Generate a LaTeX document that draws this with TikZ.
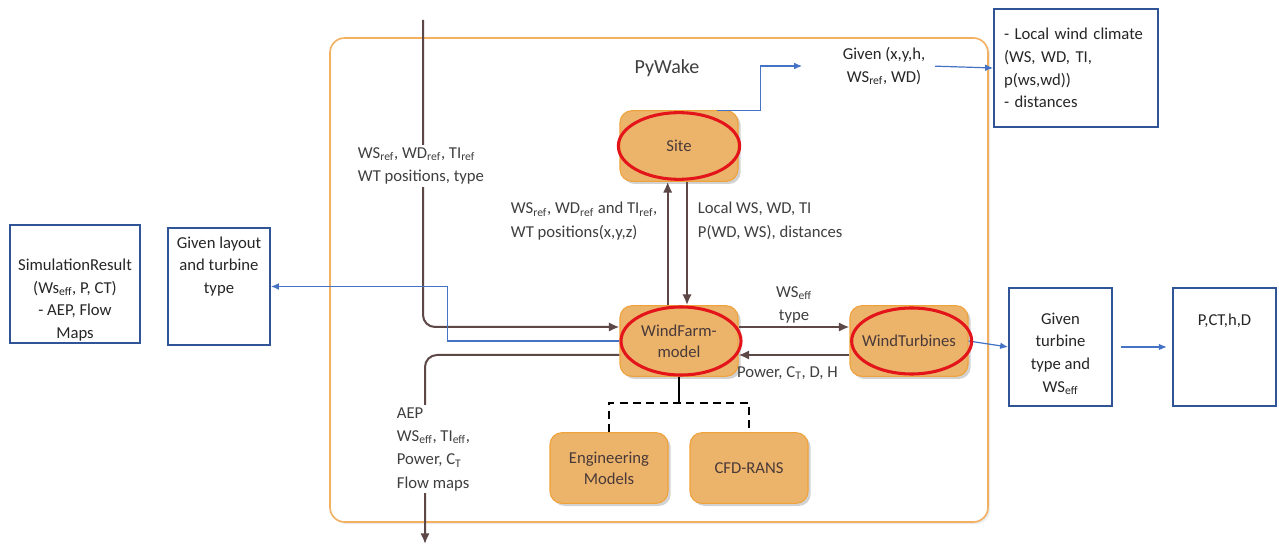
\documentclass[tikz,border=0pt]{standalone}
\usepackage{fontspec}
\setmainfont{Carlito}
\usepackage{tikz}
\usetikzlibrary{shapes, arrows.meta, positioning, shadows}
\definecolor{boxorange}{HTML}{EBB46A}
\definecolor{edgeorange}{HTML}{F0A23A}
\definecolor{frameorange}{HTML}{F2B060}
\definecolor{ringred}{HTML}{E3151B}
\definecolor{flowbrown}{HTML}{5D4747}
\definecolor{linkblue}{HTML}{4472C4}
\definecolor{boxblue}{HTML}{2F5597}
\definecolor{labelgray}{HTML}{3F3F3F}
\tikzstyle{module} = [draw=edgeorange, fill=boxorange, rounded corners=9pt, line width=0.8pt, minimum width=88.5pt, minimum height=53pt, align=center, text=flowbrown!80!black, font=\fontsize{12.5}{16}\selectfont, drop shadow={shadow xshift=2pt, shadow yshift=-2pt, fill=gray!70}]
\tikzstyle{ring} = [draw=ringred, ellipse, line width=2.3pt, minimum width=90pt, minimum height=51pt]
\tikzstyle{boxtext} = [align=center, text=black!85, font=\fontsize{12.5}{17}\selectfont]
\tikzstyle{infobox} = [draw=boxblue, line width=1.3pt, boxtext]
\tikzstyle{flowlabel} = [align=left, text=labelgray, font=\fontsize{12.5}{17.5}\selectfont, inner sep=2pt]
\tikzstyle{flow} = [draw=flowbrown, line width=1.5pt, -{Latex[length=8pt,width=7pt]}]
\tikzstyle{link} = [draw=linkblue, line width=0.9pt, -{Latex[length=6pt,width=5pt]}]
\newcommand{\sub}[1]{\textsubscript{#1}}

\begin{document}
\begin{tikzpicture}[x=0.75pt, y=-0.75pt, >=latex]
  \useasboundingbox (0,0) rectangle (1279,545);
  \fill[white] (0,0) rectangle (1279,545);

  % PyWake frame
  \node[draw=frameorange, fill=white, line width=1.2pt, rounded corners=11pt, minimum width=493.5pt, minimum height=363pt, drop shadow={shadow xshift=1.5pt, shadow yshift=-1.5pt, fill=gray!30}] (pywake) at (659,280) {};
  \node[text=labelgray, font=\fontsize{15}{18}\selectfont] (title) at (667,68) {PyWake};

  \node[module] (site) at (679,146) {Site};
  \node[module, below of=site, node distance=146.25pt] (windfarm) {WindFarm-\\model};
  \node[module, right of=windfarm, node distance=172.5pt] (windturbines) {WindTurbines};
  \node[module] (engineering) at (609,468) {Engineering\\Models};
  \node[module, right of=engineering, node distance=105pt] (cfd) {CFD-RANS};

  % boxes outside the frame
  \node[infobox, minimum width=97.5pt, minimum height=88.5pt, label={[boxtext, yshift=-12pt]center:{SimulationResult\\(Ws\sub{eff}, P, CT)\\- AEP, Flow\\Maps}}] (simresult) at (75,284) {};
  \node[infobox, minimum width=76.5pt, minimum height=87.75pt, label={[boxtext, yshift=15pt]center:{Given layout\\and turbine\\type}}] (layout) at (219,286.5) {};
  \node[boxtext] (sitegiven) at (884,66) {Given (x,y,h,\\WS\sub{ref}, WD)};
  \node[infobox, minimum width=123pt, minimum height=88.5pt, text width=108pt, align=left] (climate) at (1076,68) {- Local wind climate\\(WS, WD, TI,\\p(ws,wd))\\- distances};
  \node[infobox, minimum width=77.25pt, minimum height=88.5pt, label={[boxtext, yshift=-5pt]center:{Given\\turbine\\type and\\WS\sub{eff}}}] (turbinebox) at (1060.5,347) {};
  \node[infobox, right of=turbinebox, node distance=123pt, minimum width=77.25pt, minimum height=88.5pt, label={[boxtext, yshift=20pt]center:{P,CT,h,D}}] (specbox) {};

  \coordinate (feed) at (423,20);
  \coordinate (drain) at (425,544);

  \draw[flow, rounded corners=9pt] (feed) |- ([yshift=10.5pt]windfarm.west);
  \draw[flow, rounded corners=9pt] ([yshift=-10.5pt]windfarm.west) -| (drain);
  \draw[flow] ([xshift=-8.5pt]windfarm.north) -- ([xshift=-8.5pt]site.south);
  \draw[flow] ([xshift=6pt]site.south) -- ([xshift=6pt]windfarm.north);
  \draw[flow] ([yshift=10.5pt]windfarm.east) -- node[above, flowlabel, align=center] (efflabel) {WS\sub{eff}\\type} ([yshift=10.5pt]windturbines.west);
  \draw[flow] ([yshift=-10.5pt]windturbines.west) -- node[below=6pt, pos=0.56, flowlabel] (powerlabel) {Power, C\sub{T}, D, H} ([yshift=-10.5pt]windfarm.east);

  \draw[black, line width=1.5pt] (windfarm.south) -- ++(0,26) coordinate (split);
  \draw[black, line width=1.5pt, dash pattern=on 6pt off 4pt] (engineering.north) |- (split) -| (cfd.north);

  \draw[link] (windfarm.west) -- ++(-172,0) |- (layout.east);
  \draw[link] ([xshift=-16pt]site.north east) -- ++(43,0) |- ([xshift=-27pt]sitegiven.west);
  \draw[link, shorten <=4pt] (sitegiven.east) -- (climate.west);
  \draw[link] (windturbines.east) -- (turbinebox.west);
  \draw[link, shorten <=6pt, shorten >=4pt] (turbinebox.east) -- (specbox.west);

  \node[ring, minimum width=91pt, minimum height=50pt] (sitering) at (site) {};
  \node[ring] (windfarmring) at ([xshift=1.5pt]windfarm) {};
  \node[ring, minimum height=49.5pt] (windturbinesring) at ([xshift=2pt]windturbines) {};

  \node[flowlabel, fill=white, anchor=west] (feedlabel) at (355,166) {WS\sub{ref}, WD\sub{ref}, TI\sub{ref}\\WT positions, type};
  \node[flowlabel, fill=white, anchor=west] (drainlabel) at (394,449) {AEP\\WS\sub{eff}, TI\sub{eff},\\Power, C\sub{T}\\Flow maps};
  \node[flowlabel, anchor=west] (uplabel) at (508,221) {WS\sub{ref}, WD\sub{ref} and TI\sub{ref},\\WT positions(x,y,z)};
  \node[flowlabel, anchor=west] (downlabel) at (695,221) {Local WS, WD, TI\\P(WD, WS), distances};
\end{tikzpicture}
\end{document}
